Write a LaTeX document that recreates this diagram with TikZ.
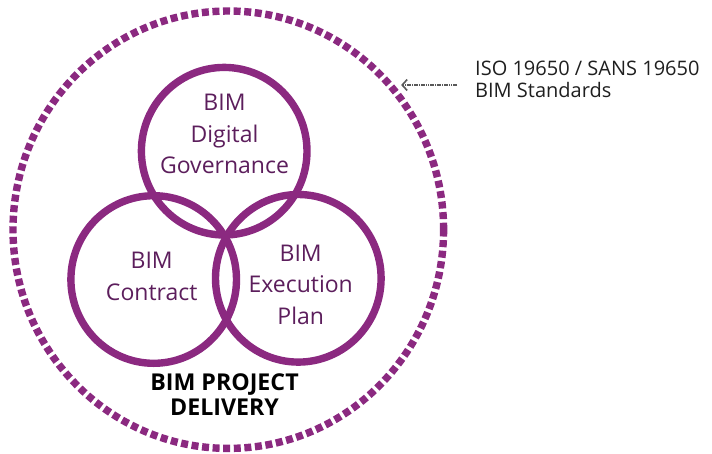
\documentclass[tikz,border=0pt]{standalone}
\usepackage{fontspec}
\setmainfont{Open Sans}
\usetikzlibrary{arrows.meta,shapes.geometric}
\definecolor{bimpurple}{RGB}{139,41,128}
\definecolor{bimtext}{RGB}{92,30,92}
\tikzset{
  ring/.style={draw=bimpurple, line width=7.4pt, ellipse, inner sep=0pt,
    minimum width=165.6pt, minimum height=167.6pt},
  deliveryring/.style={draw=bimpurple, line width=7.4pt, ellipse, inner sep=0pt,
    dash pattern=on 7pt off 3.6pt, minimum width=430.6pt, minimum height=437.4pt},
  ringlabel/.style={text=bimtext, align=center, inner sep=0pt,
    font=\fontsize{23}{31.5}\selectfont},
  pointer/.style={draw=black!65, line width=1.1pt, dash pattern=on 1.6pt off 0.7pt,
    -{Straight Barb[length=5pt,width=11pt,line width=1.6pt]}, shorten >=4pt}
}
\begin{document}
\begin{tikzpicture}[x=1pt,y=-1pt]
  \useasboundingbox (0,0) rectangle (712,453);
  \node[deliveryring] (delivery) at (228.3,229.7) {};
  \node[ring] (gov) at (224.2,151.2) {};
  \node[ring] (contract) at (153.7,279.5) {};
  \node[ring] (execution) at (298.3,278.3) {};
  \node[ringlabel] (govtext) at (224.5,134) {BIM\\Digital\\Governance};
  \node[ringlabel] (contracttext) at (151.7,276.5) {BIM\\Contract};
  \node[ringlabel] (executiontext) at (300.7,284.5) {BIM\\Execution\\Plan};
  \node[align=center, inner sep=0pt, font=\bfseries\fontsize{23.2}{25}\selectfont]
    (deliverytext) at (224.5,395) {BIM PROJECT\\DELIVERY};
  \node[anchor=west, align=left, inner sep=0pt, text=black!88,
    font=\fontsize{20}{21.7}\selectfont] (standards) at (475,79)
    {ISO 19650 / SANS 19650\\BIM Standards};
  \coordinate (stdtail) at (457,85);
  \draw[pointer] (stdtail) -- (stdtail -| delivery.40);
\end{tikzpicture}
\end{document}
